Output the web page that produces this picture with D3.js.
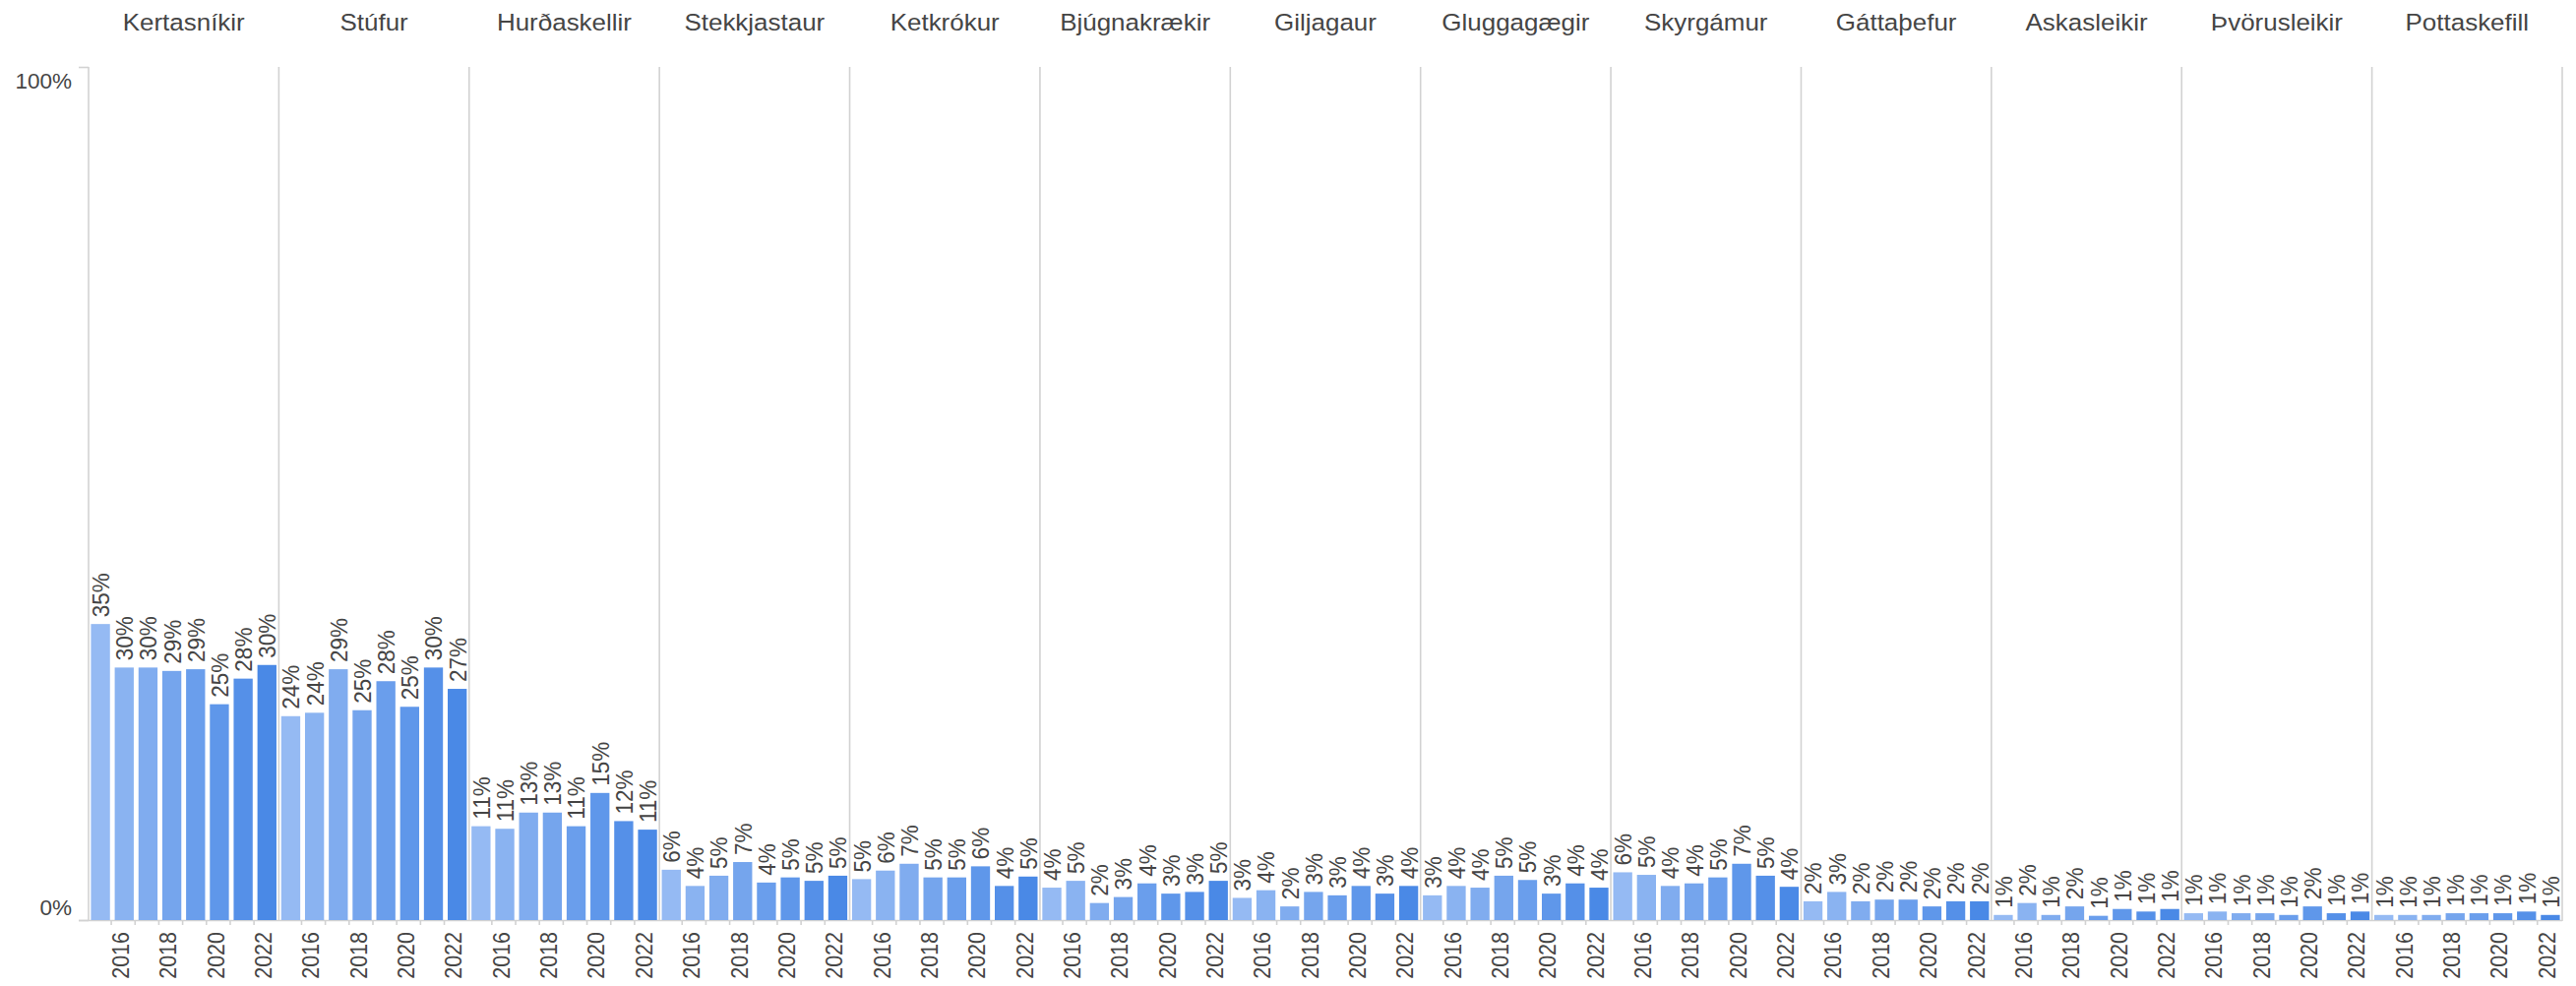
<!DOCTYPE html>
<html>
<head>
<meta charset="utf-8">
<script src="https://cdn.jsdelivr.net/npm/d3@7"></script>
<style>
  html, body { margin: 0; padding: 0; background: #ffffff; }
  svg { display: block; }
  text { font-family: "Liberation Sans", Arial, sans-serif; fill: #454545; }
</style>
</head>
<body>
<svg id="chart" width="2618" height="1002"></svg>
<script>
// ---- data ----
const categories = ["Kertasníkir", "Stúfur", "Hurðaskellir", "Stekkjastaur", "Ketkrókur",
  "Bjúgnakrækir", "Giljagaur", "Gluggagægir", "Skyrgámur", "Gáttaþefur",
  "Askasleikir", "Þvörusleikir", "Pottaskefill"];
const years = [2015, 2016, 2017, 2018, 2019, 2020, 2021, 2022];
const yearTickLabels = [2016, 2018, 2020, 2022];
const yTickLabels = ["0%", "100%"];

// share (%) per category, years 2015..2022
const kertasnikir  = [34.7, 29.6, 29.6, 29.2, 29.4, 25.3, 28.3, 29.9];
const stufur       = [23.9, 24.3, 29.4, 24.6, 28.0, 25.0, 29.6, 27.1];
const hurdaskellir = [11.0, 10.7, 12.6, 12.6, 11.0, 14.9, 11.6, 10.6];
const stekkjastaur = [5.9, 4.0, 5.2, 6.8, 4.4, 5.0, 4.6, 5.2];
const ketkrokur    = [4.8, 5.8, 6.6, 5.0, 5.0, 6.3, 4.0, 5.1];
const bjugnakraekir= [3.8, 4.6, 2.0, 2.7, 4.3, 3.1, 3.3, 4.6];
const giljagaur    = [2.6, 3.5, 1.6, 3.3, 2.9, 4.0, 3.1, 4.0];
const gluggagaegir = [2.9, 4.0, 3.8, 5.2, 4.7, 3.1, 4.3, 3.8];
const skyrgamur    = [5.6, 5.3, 4.0, 4.3, 5.0, 6.6, 5.2, 3.9];
const gattathefur  = [2.2, 3.3, 2.2, 2.4, 2.4, 1.6, 2.2, 2.2];
const askasleikir  = [0.6, 2.0, 0.6, 1.6, 0.5, 1.3, 1.0, 1.3];
const thvorusleikir= [0.8, 1.0, 0.8, 0.8, 0.6, 1.6, 0.8, 1.0];
const pottaskefill = [0.6, 0.6, 0.6, 0.8, 0.8, 0.8, 1.0, 0.6];

const seriesValues = [kertasnikir, stufur, hurdaskellir, stekkjastaur, ketkrokur,
  bjugnakraekir, giljagaur, gluggagaegir, skyrgamur, gattathefur,
  askasleikir, thvorusleikir, pottaskefill];

// ---- layout ----
const svg = d3.select("#chart");
const mLeft = 90, mRight = 2604, mTop = 68, mBottom = 935;
const gridColor = "#d2d2d2";

const xOuter = d3.scaleBand().domain(categories).range([mLeft, mRight]).padding(0);
const pw = xOuter.bandwidth();
const xInner = d3.scaleBand().domain(years).range([0, pw]).paddingInner(0.2).paddingOuter(0.1);
const yScale = d3.scaleLinear().domain([0, 100]).range([mBottom, mTop]);
const color = d3.scaleLinear().domain([2015, 2022]).range(["#95baf3", "#4a89e6"]).interpolate(d3.interpolateRgb);

// x domain line
svg.append("line").attr("x1", mLeft - 10).attr("x2", mRight).attr("y1", mBottom + 0.5).attr("y2", mBottom + 0.5)
  .attr("stroke", gridColor).attr("stroke-width", 1.6);

// y axis ticks & labels
const yTicks = [0, 100];
svg.selectAll(".ytick").data(yTicks).join("line")
  .attr("x1", mLeft - 10).attr("x2", mLeft).attr("y1", d => yScale(d) + 0.5).attr("y2", d => yScale(d) + 0.5)
  .attr("stroke", gridColor).attr("stroke-width", 1.6);
svg.selectAll(".ylab").data(yTicks).join("text")
  .attr("x", mLeft - 17)
  .attr("y", (d, i) => i === 0 ? yScale(d) - 5 : yScale(d) + 22)
  .attr("text-anchor", "end").attr("font-size", 22.5)
  .text((d, i) => yTickLabels[i]);

// panels
const panels = svg.selectAll(".panel").data(categories).join("g")
  .attr("class", "panel")
  .attr("transform", d => `translate(${xOuter(d)},0)`);

// separator lines (left of each panel) + right end
panels.append("line").attr("x1", 0).attr("x2", 0).attr("y1", mTop).attr("y2", mBottom + 1)
  .attr("stroke", gridColor).attr("stroke-width", 1.6);
svg.append("line").attr("x1", mRight).attr("x2", mRight).attr("y1", mTop).attr("y2", mBottom + 1)
  .attr("stroke", gridColor).attr("stroke-width", 1.6);

// titles
panels.append("text")
  .attr("transform", `translate(${pw / 2},31) scale(1.06,1)`)
  .attr("text-anchor", "middle")
  .attr("font-size", 24.5).text(d => d);

// bars
panels.each(function(cat, ci) {
  const g = d3.select(this);
  const vals = seriesValues[ci].map((v, i) => ({ year: years[i], v }));
  g.selectAll("rect").data(vals).join("rect")
    .attr("x", d => xInner(d.year))
    .attr("width", xInner.bandwidth())
    .attr("y", d => yScale(d.v))
    .attr("height", d => mBottom - yScale(d.v))
    .attr("fill", d => color(d.year));

  g.selectAll(".val").data(vals).join("text")
    .attr("class", "val")
    .attr("transform", d => `translate(${xInner(d.year) + xInner.bandwidth() / 2},${yScale(d.v) - 7}) rotate(-90) scale(1,1.1)`)
    .attr("dy", "0.36em")
    .attr("font-size", 22.5)
    .text(d => d3.format(".0f")(d.v) + "%");

  // x ticks at band boundaries
  g.selectAll(".xt").data(years.slice(1)).join("line")
    .attr("class", "xt")
    .attr("x1", d => xInner(d) - 3.5).attr("x2", d => xInner(d) - 3.5)
    .attr("y1", mBottom).attr("y2", mBottom + 5)
    .attr("stroke", gridColor).attr("stroke-width", 1.6);

  g.selectAll(".yl").data(yearTickLabels).join("text")
    .attr("class", "yl")
    .attr("transform", d => `translate(${xInner(d) + xInner.bandwidth() / 2},947) rotate(-90) scale(1,1.1)`)
    .attr("dy", "0.2em")
    .attr("text-anchor", "end")
    .attr("font-size", 21.5)
    .text(d => d);
});
</script>
</body>
</html>
